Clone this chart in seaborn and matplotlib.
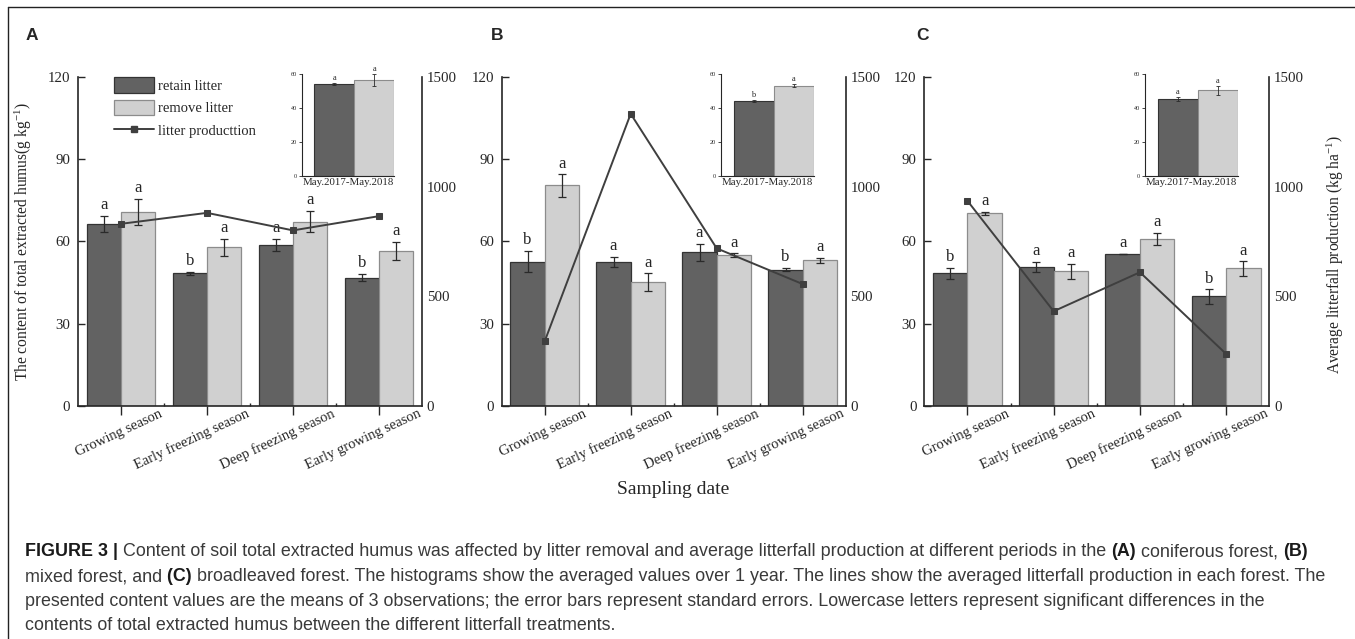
import numpy as np
import pandas as pd
import seaborn as sns
import matplotlib
matplotlib.use("Agg")
import matplotlib.pyplot as plt
from matplotlib.patches import Patch
from matplotlib.lines import Line2D

# 데이터
seasons = ["Growing season", "Early freezing season", "Deep freezing season", "Early growing season"]
treatments = ["retain litter", "remove litter"]
annual_label = "May.2017-May.2018"

# A: coniferous forest
a_retain = [66.3, 48.3, 58.8, 46.7]
a_retain_se = [3.0, 0.6, 2.2, 1.3]
a_remove = [70.7, 57.8, 67.2, 56.6]
a_remove_se = [4.7, 3.2, 3.9, 3.3]
a_litter = [830, 880, 800, 865]
a_letters_retain = ["a", "b", "a", "b"]
a_letters_remove = ["a", "a", "a", "a"]
a_annual = [54.1, 56.4]
a_annual_se = [0.5, 3.6]
a_annual_letters = ["a", "a"]

# B: mixed forest
b_retain = [52.6, 52.6, 56.0, 49.6]
b_retain_se = [3.8, 1.8, 3.2, 0.6]
b_remove = [80.4, 45.0, 54.9, 53.1]
b_remove_se = [4.1, 3.3, 0.7, 0.9]
b_litter = [294, 1332, 718, 555]
b_letters_retain = ["b", "a", "a", "b"]
b_letters_remove = ["a", "a", "a", "a"]
b_annual = [44.1, 53.2]
b_annual_se = [0.5, 1.0]
b_annual_letters = ["b", "a"]

# C: broadleaved forest
c_retain = [48.3, 50.6, 55.4, 39.9]
c_retain_se = [2.1, 1.9, 0.1, 2.6]
c_remove = [70.2, 49.0, 60.8, 50.1]
c_remove_se = [0.5, 2.7, 2.2, 2.6]
c_litter = [935, 431, 609, 236]
c_letters_retain = ["b", "a", "a", "b"]
c_letters_remove = ["a", "a", "a", "a"]
c_annual = [45.5, 50.4]
c_annual_se = [1.3, 2.9]
c_annual_letters = ["a", "a"]

DARK = "#626262"
LIGHT = "#d0d0d0"
LINE = "#3f3f3f"

sns.set_style("ticks")
plt.rcParams["font.family"] = ["Liberation Serif", "DejaVu Serif"]
plt.rcParams["mathtext.fontset"] = "custom"
plt.rcParams["mathtext.rm"] = "Liberation Serif"
plt.rcParams["mathtext.it"] = "Liberation Serif:italic"
plt.rcParams["mathtext.bf"] = "Liberation Serif:bold"

W, H = 1355, 639
fig = plt.figure(figsize=(W / 100, H / 100), dpi=100)


def px_box(left, right, top, bottom):
    return [left / W, 1 - bottom / H, (right - left) / W, (bottom - top) / H]


def panel(box, inset_x, retain, retain_se, remove, remove_se, litter,
          let_r, let_m, annual, annual_se, annual_let):
    ax = fig.add_axes(box)
    df = pd.DataFrame({
        "season": seasons * 2,
        "treatment": [treatments[0]] * 4 + [treatments[1]] * 4,
        "value": retain + remove,
    })
    sns.barplot(data=df, x="season", y="value", hue="treatment", order=seasons,
                hue_order=treatments, palette=[DARK, LIGHT], width=0.8,
                errorbar=None, legend=False, ax=ax, zorder=2)
    for cont, ec, se, lets in zip(ax.containers, ["#333333", "#8c8c8c"],
                                  [retain_se, remove_se], [let_r, let_m]):
        xs, hs = [], []
        for bar in cont:
            bar.set_edgecolor(ec)
            bar.set_linewidth(0.9)
            xs.append(bar.get_x() + bar.get_width() / 2)
            hs.append(bar.get_height())
        ax.errorbar(xs, hs, yerr=se, fmt="none", ecolor="#2a2a2a", elinewidth=0.9,
                    capsize=2.8, capthick=0.9, zorder=3)
        for x, h, e, l in zip(xs, hs, se, lets):
            ax.text(x, h + e + 1.0, l, ha="center", va="bottom", fontsize=12)

    ax.set_ylim(0, 120)
    ax.set_yticks([0, 30, 60, 90, 120])
    ax.set_xticks(range(len(seasons)))
    ax.set_xticklabels([])
    ax.set_xticks([0.5, 1.5, 2.5], minor=True)
    ax.set_xlabel("")
    ax.set_ylabel("")
    ax.tick_params(axis="y", direction="in", length=5, width=1, labelsize=10.7, pad=5.5)
    ax.tick_params(axis="x", which="major", direction="out", length=6.5, width=1)
    ax.tick_params(axis="x", which="minor", direction="in", length=2.5, width=1)
    for lab, x in zip(seasons, ax.get_xticks()):
        ax.annotate(lab, xy=(x, 0), xycoords=("data", "axes fraction"),
                    xytext=(27.5, -1), textcoords="offset points", rotation=25,
                    rotation_mode="anchor", ha="right", va="top", fontsize=10.5)

    ax2 = ax.twinx()
    sns.lineplot(x=ax.get_xticks(), y=litter, ax=ax2, color=LINE, lw=1.4,
                 marker="s", markersize=4.5, markeredgecolor=LINE)
    ax2.set_ylim(0, 1500)
    ax2.set_yticks([0, 500, 1000, 1500])
    ax2.tick_params(axis="y", direction="in", length=5, width=1, labelsize=10.7, pad=3.5)
    ax.set_xlim(-0.5, len(seasons) - 0.5)

    sns.despine(ax=ax, top=True, right=True)
    sns.despine(ax=ax2, top=True, left=True, bottom=True, right=False)
    for sp in list(ax.spines.values()) + list(ax2.spines.values()):
        sp.set_linewidth(1.2)

    # 연간 평균 inset
    ins = ax.inset_axes([inset_x, 0.700, 0.269, 0.3085])
    sns.barplot(x=treatments, y=annual, hue=treatments, order=treatments,
                hue_order=treatments, palette=[DARK, LIGHT], width=1.0,
                errorbar=None, legend=False, ax=ins)
    bars = [b for c in ins.containers for b in c]
    for bar, ec, e, l in zip(bars, ["#333333", "#8c8c8c"], annual_se, annual_let):
        bar.set_edgecolor(ec)
        bar.set_linewidth(0.8)
        x = bar.get_x() + bar.get_width() / 2
        h = bar.get_height()
        ins.errorbar([x], [h], yerr=[e], fmt="none", ecolor="#2a2a2a",
                     elinewidth=0.6, capsize=1.6, capthick=0.6)
        ins.text(x, h + e + 0.6, l, ha="center", va="bottom", fontsize=6)
    ins.set_ylim(0, 60)
    ins.set_xlim(-0.815, 1.5)
    ins.set_yticks([0, 20, 40, 60])
    ins.set_xticks([])
    ins.set_ylabel("")
    ins.set_xlabel(annual_label, fontsize=7.8, labelpad=1.5)
    ins.tick_params(axis="y", direction="out", length=2, width=0.6, labelsize=4.5, pad=1.5)
    sns.despine(ax=ins, top=True, right=True)
    for sp in ins.spines.values():
        sp.set_linewidth(0.8)
    return ax, ax2


axA, axA2 = panel(px_box(78, 422, 77, 405.7), 0.650, a_retain, a_retain_se,
                  a_remove, a_remove_se, a_litter, a_letters_retain,
                  a_letters_remove, a_annual, a_annual_se, a_annual_letters)
axB, axB2 = panel(px_box(501.7, 845.7, 77, 405.7), 0.6375, b_retain, b_retain_se,
                  b_remove, b_remove_se, b_litter, b_letters_retain,
                  b_letters_remove, b_annual, b_annual_se, b_annual_letters)
axC, axC2 = panel(px_box(924.3, 1269.3, 77, 405.7), 0.6395, c_retain, c_retain_se,
                  c_remove, c_remove_se, c_litter, c_letters_retain,
                  c_letters_remove, c_annual, c_annual_se, c_annual_letters)

axA.set_ylabel("The content of total extracted humus(g kg$^{-1}$)", fontsize=11.2)
axA.yaxis.set_label_coords(-0.128, 0.5)
axC2.set_ylabel("Average litterfall production (kg ha$^{-1}$)", fontsize=11.2)
axC2.yaxis.set_label_coords(1.161, 0.46)

handles = [Patch(facecolor=DARK, edgecolor="#333333", lw=0.9),
           Patch(facecolor=LIGHT, edgecolor="#8c8c8c", lw=0.9),
           Line2D([], [], color=LINE, lw=1.4, marker="s", markersize=4.5)]
axA2.legend(handles, ["retain litter", "remove litter", "litter producttion"],
            loc="upper left", bbox_to_anchor=(0.105, 1.0), frameon=False,
            fontsize=10.5, handlelength=2.74, handleheight=1.28,
            handletextpad=0.3, labelspacing=0.47, borderpad=0, borderaxespad=0)

fig.text(673 / W, 1 - 490 / H, "Sampling date", ha="center", va="center", fontsize=14)

for letter, x in zip(["A", "B", "C"], [26, 491, 916]):
    fig.text(x / W, 1 - 35 / H, letter, ha="left", va="center", fontsize=12.5,
             fontweight="bold", family=["Liberation Sans", "DejaVu Sans"])

# 테두리 선
fig.add_artist(Line2D([8 / W, 1], [1 - 7 / H, 1 - 7 / H], color="#222222", lw=1.0))
fig.add_artist(Line2D([8 / W, 8 / W], [0, 1 - 7 / H], color="#222222", lw=1.0))

# 캡션
caption = [
    [("FIGURE 3 |", True),
     (" Content of soil total extracted humus was affected by litter removal and average litterfall production at different periods in the ", False),
     ("(A)", True), (" coniferous forest, ", False), ("(B)", True)],
    [("mixed forest, and", False), (" (C)", True),
     (" broadleaved forest. The histograms show the averaged values over 1 year. The lines show the averaged litterfall production in each forest. The", False)],
    [("presented content values are the means of 3 observations; the error bars represent standard errors. Lowercase letters represent significant differences in the", False)],
    [("contents of total extracted humus between the different litterfall treatments.", False)],
]
fig.canvas.draw()
renderer = fig.canvas.get_renderer()


def run_width(runs, size):
    total = 0
    for s, bold in runs:
        t = fig.text(0, 0, s, fontsize=size, fontweight="bold" if bold else "normal",
                     family=["Liberation Sans", "DejaVu Sans"])
        total += t.get_window_extent(renderer).width
        t.remove()
    return total


cap_size = 10 * 1308 / run_width(caption[1], 10)
for runs, y in zip(caption, [552, 576.5, 601, 625.5]):
    x = 25
    for s, bold in runs:
        t = fig.text(x / W, 1 - y / H, s, fontsize=cap_size, va="center", ha="left",
                     fontweight="bold" if bold else "normal",
                     color="#1a1a1a" if bold else "#3a3a3a",
                     family=["Liberation Sans", "DejaVu Sans"])
        x += t.get_window_extent(renderer).width

fig.savefig("out.png", dpi=100)
